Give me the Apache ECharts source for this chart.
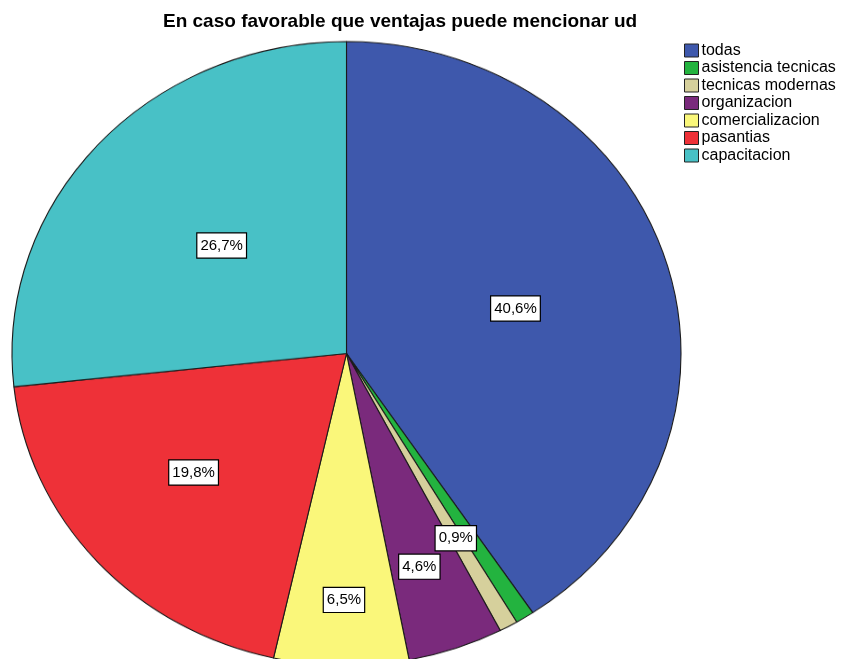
<!DOCTYPE html>
<html><head><meta charset="utf-8">
<script src="https://cdn.jsdelivr.net/npm/echarts@6/dist/echarts.min.js"></script>
<style>
html,body{margin:0;padding:0;background:#fff}
#wrap{position:relative;width:841px;height:659px;overflow:hidden;background:#fff}
#pie{position:absolute;left:0;top:0;width:841px;height:720px;transform:scaleY(0.9326);transform-origin:0 353.5px}
#top{position:absolute;left:0;top:0;width:841px;height:659px}
</style>
</head><body><div id="wrap"><div id="pie"></div><div id="top"></div></div>
<script>
const categories = ['todas','asistencia tecnicas','tecnicas modernas','organizacion','comercializacion','pasantias','capacitacion'];
const values = [40.6, 0.9, 0.9, 4.6, 6.5, 19.8, 26.7];
const colors = ['#3E58AC','#23B33F','#D6D09C','#7A2A7C','#FAF77A','#EE3138','#48C1C6'];
const hiddenLabels = ['asistencia tecnicas'];

// layout / style constants
const CX = 346.5, CY = 353.5, R = 334.5, SQUASH = 0.9326;
const labelScale = [1.032, 1.0, 1.329, 1.409, 1.552, 1.170, 1.0];
const labelTurn  = [1.0, 0, 0.1, 1.4, -0.35, 1.9, 0.9];   // degrees, clockwise
const FONT = 'Liberation Sans, Arial, sans-serif';

// bottom layer: the pie slices (vertically squashed into an ellipse)
const pieChart = echarts.init(document.getElementById('pie'), null, {renderer:'canvas'});
pieChart.setOption({
  animation: false,
  series: [{
    type: 'pie', center: [CX, CY], radius: R,
    startAngle: 90, clockwise: true, silent: true,
    itemStyle: {borderColor: '#1a1a1a', borderWidth: 1.1},
    label: {show: false}, labelLine: {show: false},
    data: categories.map((n, i) => ({name: n, value: values[i], itemStyle: {color: colors[i]}}))
  }]
});

// top layer: title, legend, value labels
const topChart = echarts.init(document.getElementById('top'), null, {renderer:'canvas'});
topChart.setOption({
  animation: false,
  title: {
    text: 'En caso favorable que ventajas puede mencionar ud',
    left: 158, top: 7,
    textStyle: {fontFamily: FONT, fontWeight: 'bold', fontSize: 19, color: '#000'}
  },
  legend: {
    orient: 'vertical', left: 679, top: 37.5,
    icon: 'rect', itemWidth: 14, itemHeight: 13, itemGap: 1.5,
    selectedMode: false,
    textStyle: {fontFamily: FONT, fontSize: 16, color: '#000', lineHeight: 16, padding: [0,0,0,-2]},
    data: categories.map((n, i) => ({
      name: n,
      itemStyle: {color: colors[i], opacity: 1, borderColor: '#222', borderWidth: 1}
    }))
  },
  series: [{
    type: 'pie', center: [CX, CY], radius: R,
    startAngle: 90, clockwise: true, silent: true,
    avoidLabelOverlap: false,
    itemStyle: {color: 'rgba(0,0,0,0)', borderWidth: 0},
    label: {
      show: true, position: 'inner',
      formatter: p => p.value.toFixed(1).replace('.', ',') + '%',
      fontFamily: FONT, fontSize: 15, color: '#000', lineHeight: 17,
      backgroundColor: '#fff', borderColor: '#000', borderWidth: 1.2,
      padding: [4, 3, 3, 3]
    },
    labelLine: {show: false},
    labelLayout: function (p) {
      const i = p.dataIndex;
      const k = labelScale[i], a = labelTurn[i] * Math.PI / 180;
      const vx = p.labelRect.x + p.labelRect.width / 2 - CX;
      const vy = p.labelRect.y + p.labelRect.height / 2 - CY;
      const rx = k * (vx * Math.cos(a) - vy * Math.sin(a));
      const ry = k * (vx * Math.sin(a) + vy * Math.cos(a)) * SQUASH;
      return {dx: rx - vx, dy: ry - vy};
    },
    emphasis: {disabled: true},
    data: categories.map((n, i) => ({
      name: n, value: values[i],
      label: hiddenLabels.includes(n) ? {show: false} : undefined
    }))
  }]
});
</script></body></html>
